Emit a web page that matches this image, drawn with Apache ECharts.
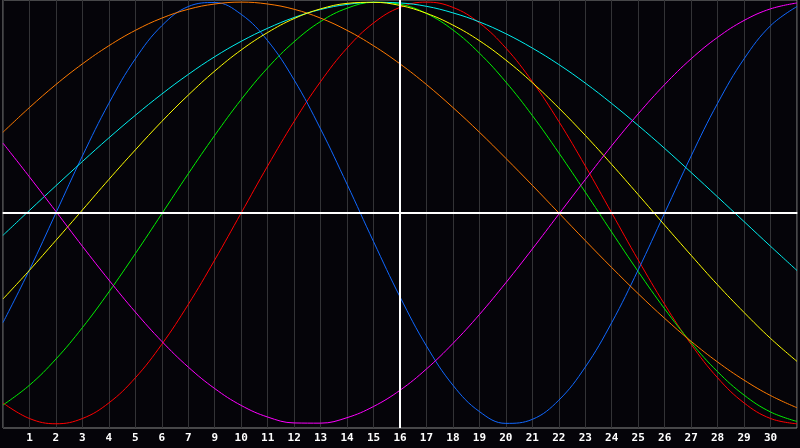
<!DOCTYPE html>
<html>
<head>
<meta charset="utf-8">
<script src="https://cdn.jsdelivr.net/npm/echarts@6/dist/echarts.min.js"></script>
<style>
  html, body { margin: 0; padding: 0; background: #050409; }
  #chart { width: 800px; height: 448px; }
</style>
</head>
<body>
<div id="chart"></div>
<script>
// day labels under each grid line (the original skips "8")
var xLabels = ['', '1', '2', '3', '4', '5', '6', '7', '9', '10', '11', '12', '13', '14', '15', '16',
  '17', '18', '19', '20', '21', '22', '23', '24', '25', '26', '27', '28', '29', '30', ''];

// curve values, one per grid line (day 0..30)
var red = [-0.901, -0.975, -1, -0.975, -0.901, -0.782, -0.623, -0.434, -0.223, 0, 0.223, 0.434, 0.623, 0.782, 0.901, 0.975,
  1, 0.975, 0.901, 0.782, 0.623, 0.434, 0.223, 0, -0.223, -0.434, -0.623, -0.782, -0.901, -0.975, -1];
var green = [-0.911, -0.817, -0.693, -0.544, -0.375, -0.193, -0.004, 0.186, 0.368, 0.538, 0.688, 0.812, 0.908, 0.971, 0.999, 0.990,
  0.946, 0.868, 0.758, 0.621, 0.462, 0.285, 0.099, -0.091, -0.278, -0.455, -0.615, -0.753, -0.864, -0.944, -0.989];
var blue = [-0.520, -0.270, 0, 0.270, 0.520, 0.731, 0.888, 0.979, 0.998, 0.942, 0.817, 0.631, 0.398, 0.136, -0.136, -0.398,
  -0.631, -0.817, -0.942, -0.998, -0.979, -0.888, -0.731, -0.520, -0.270, 0, 0.270, 0.520, 0.731, 0.888, 0.979];
var orange = [0.383, 0.5, 0.609, 0.707, 0.793, 0.866, 0.924, 0.966, 0.991, 1, 0.991, 0.966, 0.924, 0.866, 0.793, 0.707,
  0.609, 0.5, 0.383, 0.259, 0.131, 0, -0.131, -0.259, -0.383, -0.5, -0.609, -0.707, -0.793, -0.866, -0.924];
var cyan = [-0.106, 0.012, 0.129, 0.244, 0.356, 0.463, 0.564, 0.657, 0.741, 0.814, 0.876, 0.927, 0.965, 0.989, 0.999, 0.996,
  0.980, 0.949, 0.906, 0.850, 0.782, 0.704, 0.616, 0.519, 0.415, 0.306, 0.192, 0.076, -0.041, -0.158, -0.273];
var yellow = [-0.408, -0.272, -0.130, 0.014, 0.159, 0.299, 0.434, 0.559, 0.673, 0.773, 0.856, 0.922, 0.968, 0.994, 0.999, 0.984,
  0.947, 0.891, 0.817, 0.725, 0.618, 0.498, 0.368, 0.230, 0.087, -0.058, -0.201, -0.341, -0.472, -0.595, -0.704];
var magenta = [0.331, 0.171, 0.007, -0.158, -0.318, -0.470, -0.609, -0.731, -0.833, -0.913, -0.968, -0.996, -0.997, -0.971, -0.918, -0.841,
  -0.740, -0.619, -0.482, -0.331, -0.171, -0.006, 0.158, 0.319, 0.470, 0.609, 0.731, 0.833, 0.913, 0.968, 0.996];

var todayIndex = 15;

var curves = [
  { data: red, color: '#ff0000' },
  { data: green, color: '#00f000' },
  { data: blue, color: '#1068ff' },
  { data: orange, color: '#ff7a00' },
  { data: cyan, color: '#00f0f0' },
  { data: yellow, color: '#ffff00' },
  { data: magenta, color: '#ff00ff' }
];

function pairs(arr) {
  return arr.map(function(v, i) { return [i, v]; });
}

var series = curves.map(function(c) {
  return {
    type: 'line',
    data: pairs(c.data),
    smooth: 0.4,
    symbol: 'none',
    silent: true,
    lineStyle: { color: c.color, width: 1 }
  };
});

series[0].markLine = {
  silent: true,
  symbol: 'none',
  label: { show: false },
  lineStyle: { color: '#ffffff', width: 2, type: 'solid' },
  data: [{ xAxis: todayIndex }, { yAxis: 0 }]
};

var chart = echarts.init(document.getElementById('chart'), null, { renderer: 'canvas' });
chart.setOption({
  animation: false,
  backgroundColor: '#050409',
  grid: {
    left: 0,
    right: 0,
    top: 0,
    bottom: 20,
    show: true,
    borderColor: '#8a8a8a',
    borderWidth: 1
  },
  xAxis: {
    type: 'value',
    min: 0,
    max: 30,
    interval: 1,
    axisLine: { show: true, lineStyle: { color: '#9a9a9a', width: 2 } },
    axisTick: { show: false },
    splitLine: { show: true, lineStyle: { color: '#333336', width: 1 } },
    axisLabel: {
      color: '#ffffff',
      fontFamily: 'DejaVu Sans Mono',
      fontWeight: 'bold',
      fontSize: 11,
      margin: 5,
      formatter: function(v) { return xLabels[v] || ''; }
    }
  },
  yAxis: {
    type: 'value',
    min: -1.02,
    max: 1.01,
    show: false,
    splitLine: { show: false }
  },
  series: series
});
window.addEventListener('resize', function() { chart.resize(); });
</script>
</body>
</html>
